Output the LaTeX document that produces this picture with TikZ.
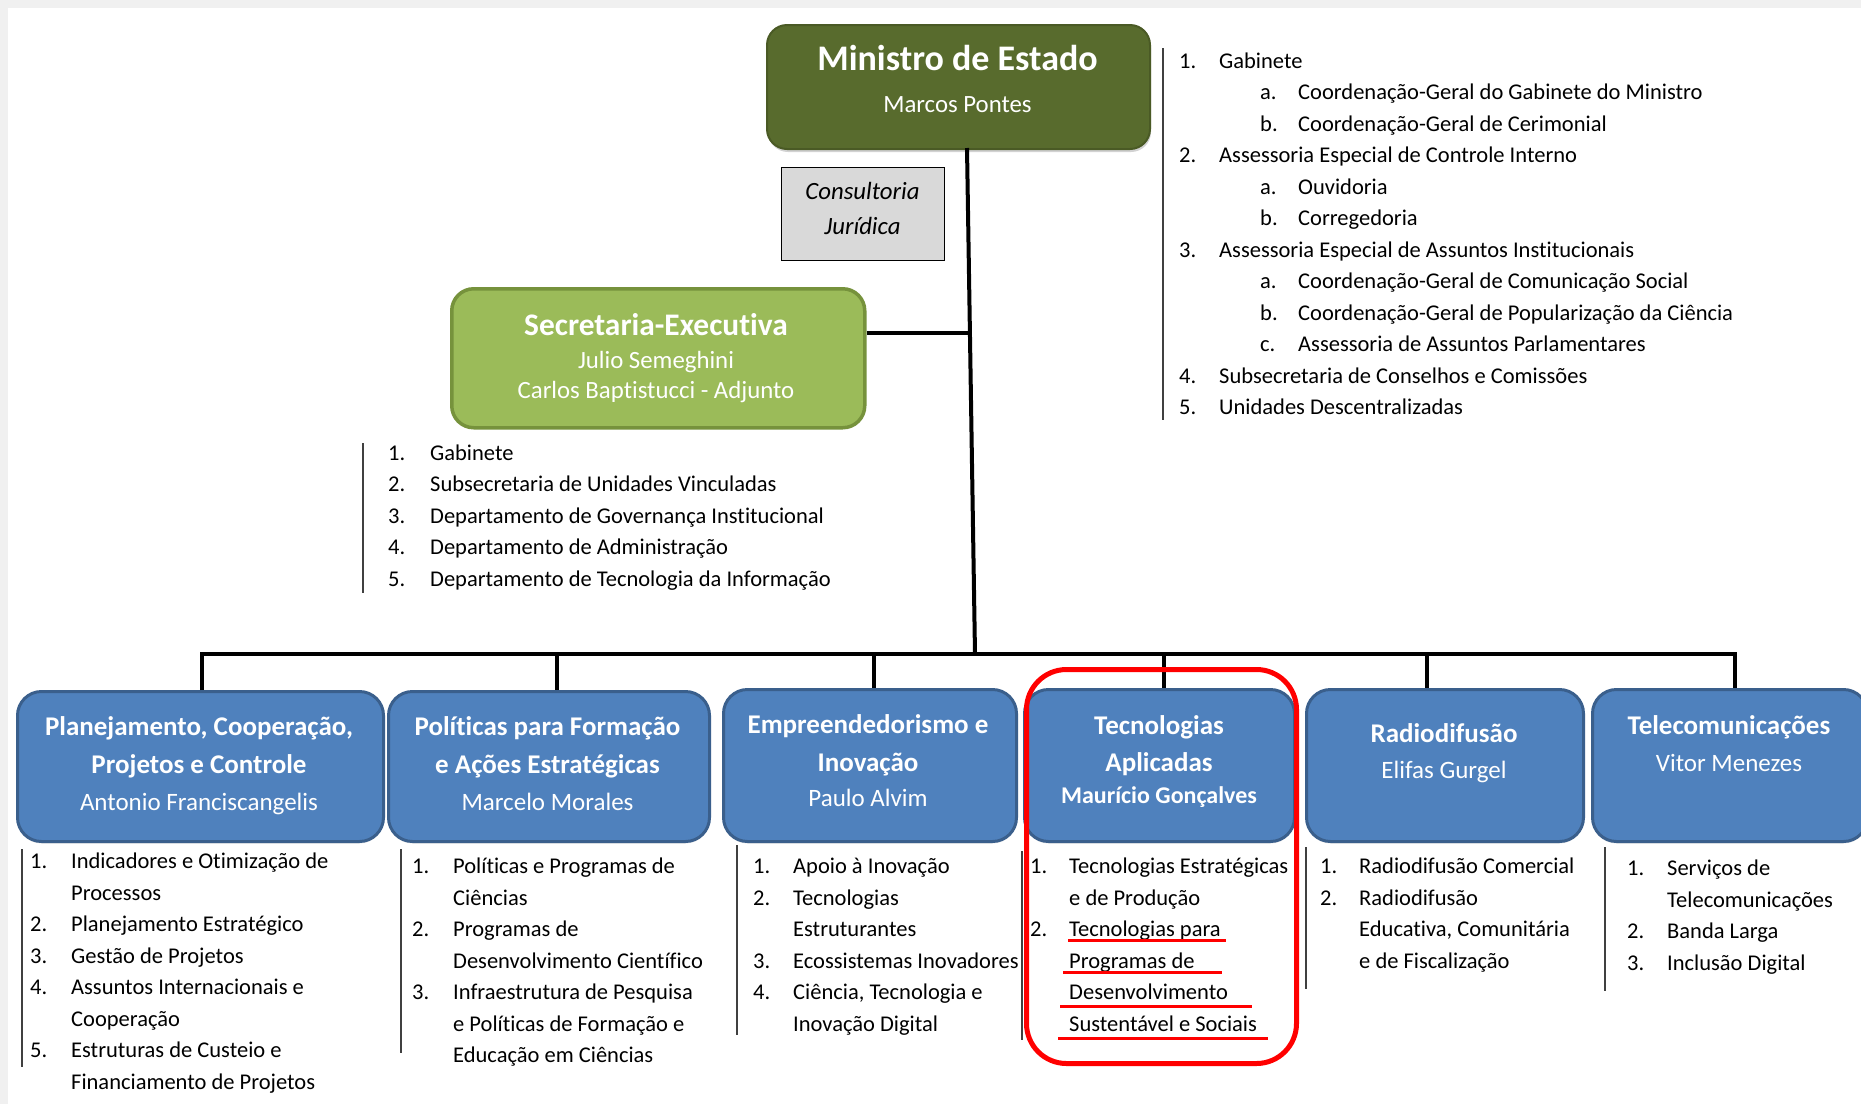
\documentclass[tikz,border=0pt]{standalone}
\usepackage{fontspec}
\setmainfont[Ligatures=NoCommon]{Carlito}
\usetikzlibrary{shadows,calc}
\definecolor{minfill}{RGB}{88,107,45}
\definecolor{minedge}{RGB}{74,90,37}
\definecolor{secfill}{RGB}{155,187,89}
\definecolor{secedge}{RGB}{118,146,60}
\definecolor{bluefill}{RGB}{79,129,189}
\definecolor{blueedge}{RGB}{58,95,140}
\definecolor{consfill}{RGB}{217,217,217}
\definecolor{pagegray}{RGB}{240,240,240}
\definecolor{barcol}{RGB}{64,64,64}
\tikzset{
  minbox/.style={draw=minedge, fill=minfill, rounded corners=20pt, line width=2pt, inner sep=0pt,
    anchor=north west, drop shadow={opacity=0.35, shadow xshift=1pt, shadow yshift=-3pt}},
  secbox/.style={draw=secedge, fill=secfill, rounded corners=22pt, line width=3.5pt, inner sep=0pt, anchor=north west},
  bluebox/.style={draw=blueedge, fill=bluefill, rounded corners=24pt, line width=3pt, inner sep=0pt, anchor=north west,
    drop shadow={opacity=0.2, shadow xshift=0pt, shadow yshift=-2pt}},
  consbox/.style={draw=black, fill=consfill, line width=1.2pt, inner sep=0pt, anchor=north west},
  wt/.style={text=white, inner sep=0pt, anchor=base},
  ttl/.style={wt, font=\fontsize{27}{32}\selectfont\bfseries},
  nm/.style={wt, font=\fontsize{25}{30}\selectfont},
  lst/.style={inner sep=0pt, anchor=north west, font=\fontsize{22.5}{31.5}\selectfont},
  bar/.style={draw=barcol, line width=1.5pt},
  conn/.style={line width=4pt, black, line join=miter},
  redl/.style={draw=red, line width=3pt},
}
\begin{document}
\begin{tikzpicture}[x=1pt,y=-1pt]
\useasboundingbox (0,0) rectangle (1861,1104);
\fill[white] (0,0) rectangle (1861,1104);
\fill[pagegray] (0,0) rectangle (8,1104);
\fill[pagegray] (0,0) rectangle (1861,8);

% connectors
\coordinate (vtop) at (967,148);
\coordinate (busC) at (975,654);
\coordinate (j1) at (968,333);
\coordinate (t1) at (202,654);
\coordinate (t2) at (557,654);
\coordinate (t3) at (874,654);
\coordinate (t4) at (1164,654);
\coordinate (t5) at (1427,654);
\coordinate (t6) at (1735,654);

% boxes
\node[minbox, minimum width=383pt, minimum height=124pt] (min) at (766,24) {};
\node[consbox, minimum width=163pt, minimum height=93pt] (cons) at (781,167) {};
\node[secbox, minimum width=413pt, minimum height=139pt] (sec) at (450,287) {};
\node[bluebox, minimum width=366pt, minimum height=150pt] (b1) at (16,690) {};
\node[bluebox, minimum width=321pt, minimum height=150pt] (b2) at (387,690) {};
\node[bluebox, minimum width=293pt, minimum height=152pt] (b3) at (722,688) {};
\node[bluebox, minimum width=270pt, minimum height=152pt] (b4) at (1023,688) {};
\node[bluebox, minimum width=277pt, minimum height=152pt] (b5) at (1305,688) {};
\node[bluebox, minimum width=275pt, minimum height=152pt] (b6) at (1591,688) {};

\draw[conn] (vtop) -- (busC);
\draw[conn] (sec.east |- j1) -- (j1);
\draw[conn] (t1 |- b1.north) -- (t1) -- (t6) -- (t6 |- b6.north);
\draw[conn] (t2) -- (t2 |- b2.north);
\draw[conn] (t3) -- (t3 |- b3.north);
\draw[conn] (t4) -- (t4 |- b4.north);
\draw[conn] (t5) -- (t5 |- b5.north);

% box texts
\node[wt, font=\fontsize{36}{41}\selectfont\bfseries] (minT) at (957.5,70.5) {Ministro de Estado};
\node[nm, font=\fontsize{24.8}{30}\selectfont] (minN) at (957.5,112) {Marcos Pontes};
\node[inner sep=0pt, anchor=base, font=\fontsize{24.8}{30}\selectfont\itshape] (consA) at (862.5,199) {Consultoria};
\node[inner sep=0pt, anchor=base, font=\fontsize{24.8}{30}\selectfont\itshape] (consB) at (862.5,234) {Jurídica};
\node[wt, font=\fontsize{31.4}{37}\selectfont\bfseries] (secT) at (656,335) {Secretaria-Executiva};
\node[nm, font=\fontsize{24.8}{30}\selectfont] (secN1) at (656,368) {Julio Semeghini};
\node[nm, font=\fontsize{24.8}{30}\selectfont] (secN2) at (656,398) {Carlos Baptistucci - Adjunto};

\node[ttl] (b1a) at (199,735) {Planejamento, Cooperação,};
\node[ttl] (b1b) at (199,773) {Projetos e Controle};
\node[nm] (b1c) at (199,810) {Antonio Franciscangelis};
\node[ttl] (b2a) at (547.5,735) {Políticas para Formação};
\node[ttl] (b2b) at (547.5,773) {e Ações Estratégicas};
\node[nm] (b2c) at (547.5,810) {Marcelo Morales};
\node[ttl] (b3a) at (868,733) {Empreendedorismo e};
\node[ttl] (b3b) at (868,771) {Inovação};
\node[nm] (b3c) at (868,806) {Paulo Alvim};
\node[ttl] (b4a) at (1159,734) {Tecnologias};
\node[ttl] (b4b) at (1159,771) {Aplicadas};
\node[ttl, font=\fontsize{24}{29}\selectfont\bfseries] (b4c) at (1159,803) {Maurício Gonçalves};
\node[ttl] (b5a) at (1444,742) {Radiodifusão};
\node[nm] (b5b) at (1444,778) {Elifas Gurgel};
\node[ttl] (b6a) at (1729,734) {Telecomunicações};
\node[nm] (b6b) at (1729,771) {Vitor Menezes};

% list bars
\draw[bar] (1163,48) -- (1163,420);
\draw[bar] (363,443) -- (363,593);
\draw[bar] (22,849) -- (22,1067);
\draw[bar] (401,849) -- (401,1053);
\draw[bar] (737,845) -- (737,1035);
\draw[bar] (1022,851) -- (1022,1040);
\draw[bar] (1306,847) -- (1306,989);
\draw[bar] (1605,847) -- (1605,991);

% lists
\node[lst] (rlist) at (1179,46) {\begin{tabular}{@{}p{40pt}@{}p{41pt}@{}p{38pt}@{}l@{}}
1. & \multicolumn{3}{@{}l@{}}{Gabinete}\\
 & & a. & Coordenação-Geral do Gabinete do Ministro\\
 & & b. & Coordenação-Geral de Cerimonial\\
2. & \multicolumn{3}{@{}l@{}}{Assessoria Especial de Controle Interno}\\
 & & a. & Ouvidoria\\
 & & b. & Corregedoria\\
3. & \multicolumn{3}{@{}l@{}}{Assessoria Especial de Assuntos Institucionais}\\
 & & a. & Coordenação-Geral de Comunicação Social\\
 & & b. & Coordenação-Geral de Popularização da Ciência\\
 & & c. & Assessoria de Assuntos Parlamentares\\
4. & \multicolumn{3}{@{}l@{}}{Subsecretaria de Conselhos e Comissões}\\
5. & \multicolumn{3}{@{}l@{}}{Unidades Descentralizadas}\\
\end{tabular}};

\node[lst] (slist) at (388,438) {\begin{tabular}{@{}p{42pt}@{}l@{}}
1. & Gabinete\\
2. & Subsecretaria de Unidades Vinculadas\\
3. & Departamento de Governança Institucional\\
4. & Departamento de Administração\\
5. & Departamento de Tecnologia da Informação\\
\end{tabular}};

\node[lst] (l1) at (30,846.5) {\begin{tabular}{@{}p{41pt}@{}l@{}}
1. & Indicadores e Otimização de\\
 & Processos\\
2. & Planejamento Estratégico\\
3. & Gestão de Projetos\\
4. & Assuntos Internacionais e\\
 & Cooperação\\
5. & Estruturas de Custeio e\\
 & Financiamento de Projetos\\
\end{tabular}};

\node[lst] (l2) at (412,851.5) {\begin{tabular}{@{}p{41pt}@{}l@{}}
1. & Políticas e Programas de\\
 & Ciências\\
2. & Programas de\\
 & Desenvolvimento Científico\\
3. & Infraestrutura de Pesquisa\\
 & e Políticas de Formação e\\
 & Educação em Ciências\\
\end{tabular}};

\node[lst] (l3) at (753,851.5) {\begin{tabular}{@{}p{40pt}@{}l@{}}
1. & Apoio à Inovação\\
2. & Tecnologias\\
 & Estruturantes\\
3. & Ecossistemas Inovadores\\
4. & Ciência, Tecnologia e\\
 & Inovação Digital\\
\end{tabular}};

\node[lst] (l4) at (1030,851.5) {\begin{tabular}{@{}p{39pt}@{}l@{}}
1. & Tecnologias Estratégicas\\
 & e de Produção\\
2. & Tecnologias para\\
 & Programas de\\
 & Desenvolvimento\\
 & Sustentável e Sociais\\
\end{tabular}};

\node[lst] (l5) at (1320,851.5) {\begin{tabular}{@{}p{39pt}@{}l@{}}
1. & Radiodifusão Comercial\\
2. & Radiodifusão\\
 & Educativa, Comunitária\\
 & e de Fiscalização\\
\end{tabular}};

\node[lst] (l6) at (1627,853.5) {\begin{tabular}{@{}p{40pt}@{}l@{}}
1. & Serviços de\\
 & Telecomunicações\\
2. & Banda Larga\\
3. & Inclusão Digital\\
\end{tabular}};

% highlight
\node[draw=red, line width=5pt, rounded corners=40pt, minimum width=270pt, minimum height=394pt,
  inner sep=0pt, anchor=north west] (hl) at (1024,667) {};
\draw[redl] (1068,940) -- (1226,940);
\draw[redl] (1063,972) -- (1222,972);
\draw[redl] (1060,1006) -- (1252,1006);
\draw[redl] (1058,1038) -- (1268,1038);
\end{tikzpicture}
\end{document}
